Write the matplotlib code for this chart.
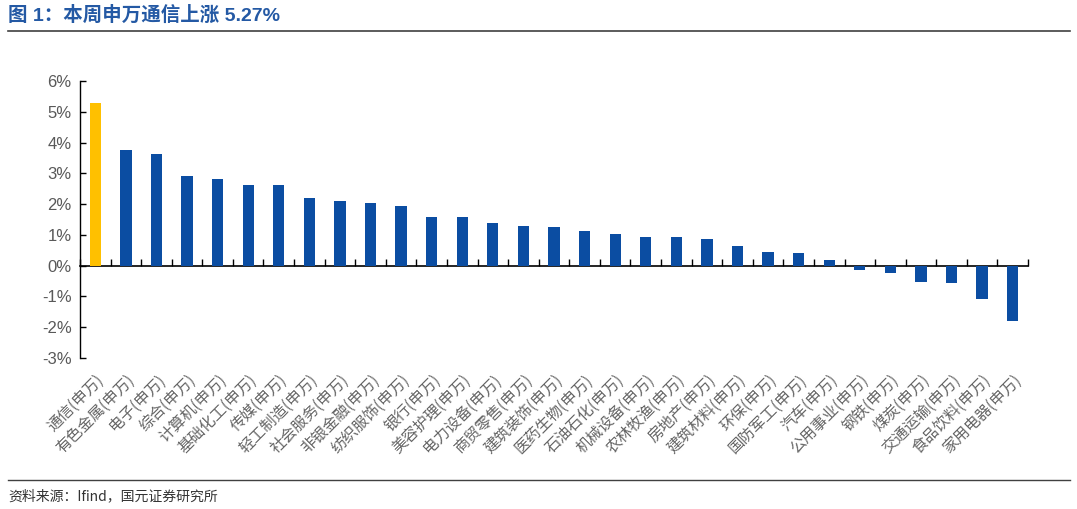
import matplotlib
matplotlib.use("Agg")
import matplotlib.pyplot as plt
from matplotlib.ticker import FuncFormatter, MultipleLocator
import numpy as np

categories = ["通信(申万)", "有色金属(申万)", "电子(申万)", "综合(申万)", "计算机(申万)",
              "基础化工(申万)", "传媒(申万)", "轻工制造(申万)", "社会服务(申万)", "非银金融(申万)",
              "纺织服饰(申万)", "银行(申万)", "美容护理(申万)", "电力设备(申万)", "商贸零售(申万)",
              "建筑装饰(申万)", "医药生物(申万)", "石油石化(申万)", "机械设备(申万)", "农林牧渔(申万)",
              "房地产(申万)", "建筑材料(申万)", "环保(申万)", "国防军工(申万)", "汽车(申万)",
              "公用事业(申万)", "钢铁(申万)", "煤炭(申万)", "交通运输(申万)", "食品饮料(申万)",
              "家用电器(申万)"]
values = [5.27, 3.77, 3.62, 2.90, 2.83, 2.63, 2.61, 2.21, 2.11, 2.02,
          1.93, 1.58, 1.57, 1.40, 1.30, 1.25, 1.13, 1.02, 0.94, 0.92,
          0.87, 0.64, 0.46, 0.41, 0.18, -0.15, -0.24, -0.52, -0.55, -1.08, -1.81]
highlight = "通信(申万)"
title = "图 1：本周申万通信上涨 5.27%"
source = "资料来源：Ifind，国元证券研究所"

BLUE = "#0B4DA2"
YELLOW = "#FFC000"
GREY = "#595959"

plt.rcParams['font.family'] = ['Liberation Sans', 'Noto Sans CJK SC', 'DejaVu Sans']

fig = plt.figure(figsize=(10.77, 5.09), dpi=100)
ax = fig.add_axes([80/1077, 1-358/509, (1028-80)/1077, (358-81)/509])

x = np.arange(len(categories))
colors = [YELLOW if c == highlight else BLUE for c in categories]
ax.bar(x, values, width=0.37, color=colors, zorder=3)

ymin, ymax = -3, 6
ax.set_ylim(ymin, ymax)
ax.set_xlim(-0.5, len(categories) - 0.5)
ax.yaxis.set_major_locator(MultipleLocator(1))
ax.yaxis.set_major_formatter(FuncFormatter(lambda v, p: f"{int(round(v))}%"))
ax.tick_params(axis='y', direction='in', length=4, width=1, colors='black',
               labelcolor=GREY, labelsize=12, pad=6)
for s in ['top', 'right', 'bottom']:
    ax.spines[s].set_visible(False)
ax.spines['left'].set_linewidth(1)

ax.set_xticks(x)
ax.set_xticklabels(categories, rotation=45, ha='right', rotation_mode='anchor',
                   family=['Noto Sans CJK SC', 'DejaVu Sans'], fontsize=11.2, color='#666666',
                   fontweight='light')
ax.tick_params(axis='x', length=0, pad=10)

zero_pos = (0 - ymin) / (ymax - ymin)
sec = ax.secondary_xaxis(zero_pos)
sec.set_xticks(np.arange(-0.5, len(categories) + 0.5, 1.0))
sec.tick_params(axis='x', direction='in', length=5, width=1, labelbottom=False, labeltop=False)
sec.set_xticklabels([])
sec.spines['bottom'].set_linewidth(1.2)

fig.text(8/1077, 1-15/509, title, fontsize=14, fontweight='bold', color="#2459A4",
         va='center', ha='left', family=['Liberation Sans', 'Noto Sans CJK SC', 'DejaVu Sans'])
fig.add_artist(plt.Line2D([8/1077, 1070/1077], [1-31/509, 1-31/509], color='#404040', lw=1.2))
fig.add_artist(plt.Line2D([8/1077, 1070/1077], [1-480/509, 1-480/509], color='#404040', lw=1.0))
fig.text(8/1077, 1-496/509, source, fontsize=10, color='#333333', va='center', ha='left',
         family=['Noto Sans CJK SC', 'DejaVu Sans'])

fig.savefig("out.png", dpi=100)
